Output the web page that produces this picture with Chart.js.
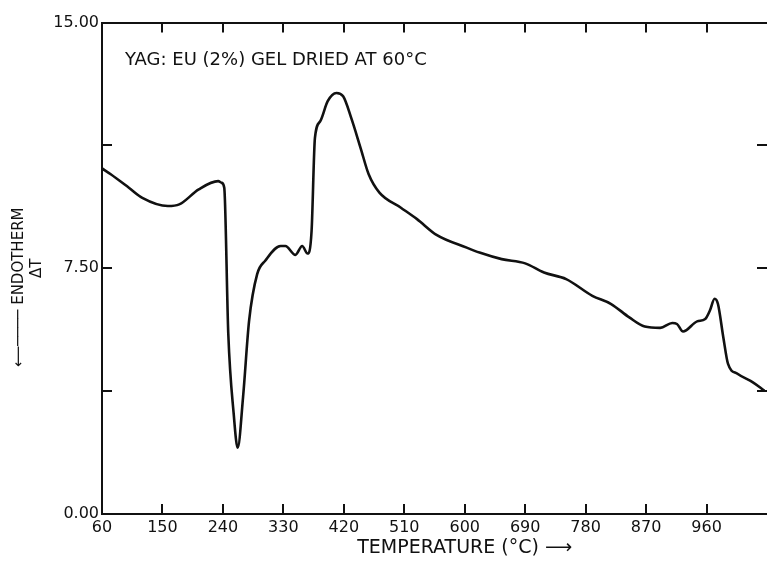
<!DOCTYPE html>
<html>
<head>
<meta charset="utf-8">
<script src="https://cdn.jsdelivr.net/npm/chart.js@4"></script>
<style>
  html, body { margin: 0; padding: 0; background: #fff; }
  #wrap { width: 767px; height: 562px; }
</style>
</head>
<body>
<div id="wrap"><canvas id="chart"></canvas></div>
<script>
// DTA trace of YAG:Eu gel (temperature in deg C, delta T)
const temps = [60, 73, 100, 120, 158, 175, 204, 233, 238, 242, 248, 256, 262, 270, 279, 291, 303, 326, 333, 348, 358, 366, 372, 377, 385, 396, 409, 419, 431, 445, 457, 473, 505, 529, 558, 603, 622, 655, 690, 718, 751, 790, 818, 845, 868, 891, 909, 916, 925, 946, 958, 965, 972, 977, 985, 992, 1006, 1029, 1046];
const deltaT = [10.55, 10.37, 9.96, 9.65, 9.40, 9.45, 9.91, 10.16, 10.11, 9.96, 5.50, 3.07, 2.02, 3.57, 5.90, 7.32, 7.73, 8.18, 8.18, 7.91, 8.18, 7.95, 8.64, 11.48, 11.99, 12.60, 12.85, 12.75, 12.09, 11.17, 10.37, 9.81, 9.35, 9.00, 8.52, 8.13, 7.98, 7.78, 7.65, 7.37, 7.17, 6.66, 6.41, 6.00, 5.72, 5.68, 5.83, 5.80, 5.57, 5.88, 5.95, 6.21, 6.57, 6.41, 5.39, 4.58, 4.28, 4.02, 3.77];

const xTicks = [60, 150, 240, 330, 420, 510, 600, 690, 780, 870, 960];
const yTicks = [0, 3.75, 7.5, 11.25, 15];
const yLabelled = [0, 7.5, 15];

const FONT = "'DejaVu Sans', sans-serif";
const INK = "#111";

const points = temps.map((t, i) => ({ x: t, y: deltaT[i] }));

const noteText = {
  id: "noteText",
  afterDraw(chart) {
    const { ctx, chartArea } = chart;
    ctx.save();
    ctx.font = "18px " + FONT;
    ctx.fillStyle = INK;
    ctx.textBaseline = "alphabetic";
    ctx.fillText("YAG: EU (2%) GEL DRIED AT 60°C", chartArea.left + 23, chartArea.top + 42);
    ctx.restore();
  },
};

const inwardGrid = { drawOnChartArea: false, tickLength: -10, color: INK, lineWidth: 2 };
const border = { color: INK, width: 2 };

new Chart(document.getElementById("chart"), {
  type: "line",
  data: {
    datasets: [{
      data: points,
      borderColor: INK,
      borderWidth: 2.6,
      pointRadius: 0,
      cubicInterpolationMode: "monotone",
      fill: false,
    }],
  },
  options: {
    responsive: true,
    maintainAspectRatio: false,
    animation: false,
    layout: { padding: { top: 21, right: 0, left: 0, bottom: 0 } },
    plugins: { legend: { display: false }, tooltip: { enabled: false } },
    scales: {
      x: {
        type: "linear",
        position: "bottom",
        min: 60,
        max: 1050,
        afterBuildTicks: (s) => { s.ticks = xTicks.map((v) => ({ value: v })); },
        afterFit: (s) => { s.height = 48; },
        ticks: {
          color: INK,
          font: { family: FONT, size: 16 },
          padding: 14,
          maxRotation: 0,
          autoSkip: false,
          callback: (v) => String(v),
        },
        grid: inwardGrid,
        border: border,
        title: {
          display: true,
          text: "          TEMPERATURE (°C) ⟶",
          color: INK,
          font: { family: FONT, size: 19 },
          padding: { top: 0, bottom: 3 },
        },
      },
      xTop: {
        type: "linear",
        axis: "x",
        position: "top",
        min: 60,
        max: 1050,
        afterBuildTicks: (s) => { s.ticks = xTicks.map((v) => ({ value: v })); },
        afterFit: (s) => { s.height = 0; },
        ticks: { display: false },
        grid: inwardGrid,
        border: border,
      },
      y: {
        type: "linear",
        position: "left",
        min: 0,
        max: 15,
        afterBuildTicks: (s) => { s.ticks = yTicks.map((v) => ({ value: v })); },
        afterFit: (s) => { s.width = 102; },
        ticks: {
          color: INK,
          font: { family: FONT, size: 16 },
          padding: 13,
          autoSkip: false,
          callback: (v) => (yLabelled.includes(v) ? v.toFixed(2) : ""),
        },
        grid: inwardGrid,
        border: border,
        title: {
          display: true,
          text: ["⟵──── ENDOTHERM        ", "ΔT"],
          color: INK,
          font: { family: FONT, size: 15 },
          padding: { top: 10, bottom: 0 },
        },
      },
      yRight: {
        type: "linear",
        axis: "y",
        position: "right",
        min: 0,
        max: 15,
        afterBuildTicks: (s) => { s.ticks = yTicks.map((v) => ({ value: v })); },
        afterFit: (s) => { s.width = 0; },
        ticks: { display: false },
        grid: inwardGrid,
        border: { display: false },
      },
    },
  },
  plugins: [noteText],
});
</script>
</body>
</html>
